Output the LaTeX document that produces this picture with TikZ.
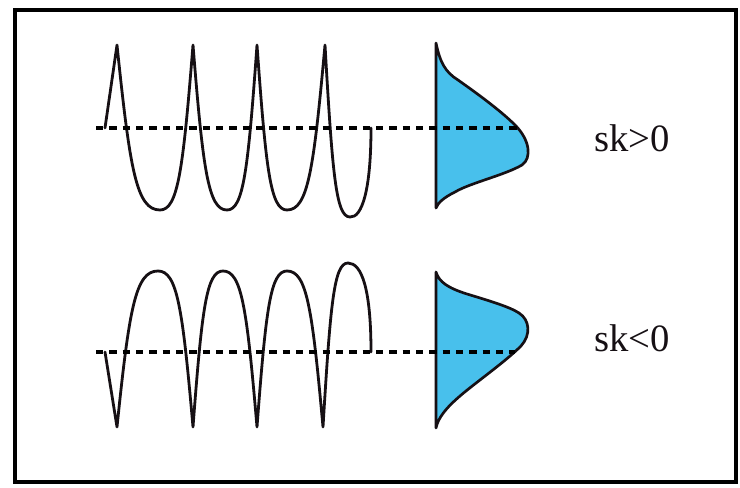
\documentclass[tikz,border=0pt]{standalone}
\usepackage{fontspec}
\setmainfont{Liberation Serif}
\definecolor{bellblue}{RGB}{72,192,236}
\definecolor{inkdark}{RGB}{22,16,20}
\tikzset{
  wave/.style={draw=inkdark, line width=2.1pt, line join=round, line cap=round},
  meanline/.style={draw=black, line width=3pt, dash pattern=on 5.6pt off 4.4pt},
  bell/.style={draw=inkdark, fill=bellblue, line width=2pt, line join=round},
  skewlabel/.style={anchor=base west, inner sep=0pt, text=inkdark,
    font=\fontsize{29}{34}\selectfont},
  frame/.style={draw=black, line width=3pt}
}
\begin{document}
\begin{tikzpicture}[x=0.75pt, y=-0.75pt]
  \useasboundingbox (0,0) rectangle (740,488);
  \fill[white] (0,0) rectangle (740,488);
  \draw[frame] (15,10) rectangle (736,482);

  % ---- positive skew: sharp crests, broad troughs ----
  \draw[wave] (105,128) -- (117,45)
    .. controls (130,170) and (136.4,210) .. (160,210)
    .. controls (178,210) and (183,170) .. (193,45)
    .. controls (203,170) and (208.3,210) .. (227,210)
    .. controls (243.5,210) and (248,170) .. (257,45)
    .. controls (266,170) and (270.5,210) .. (287,210)
    .. controls (308,210) and (313.6,170) .. (325,45)
    .. controls (332.5,175) and (336,217) .. (350,217)
    .. controls (362,218) and (371,190) .. (371,128);
  \path[bell] (436,43)
    .. controls (440,62) and (445,72) .. (458,80)
    .. controls (475,92) and (500,110) .. (515,125)
    .. controls (530,140) and (532,158) .. (522,165)
    .. controls (505,175) and (470,183) .. (455,192)
    .. controls (443,198) and (438,203) .. (436,208) -- cycle;
  \coordinate (m1a) at (96,128);
  \coordinate (m1b) at (518,128);
  \draw[meanline] (m1a) -- (m1b);
  \node[skewlabel] (skpos) at (594,152) {sk>0};

  % ---- negative skew: broad crests, sharp troughs ----
  \draw[wave] (105,352) -- (117,427)
    .. controls (129.3,308) and (135.5,271) .. (158,271)
    .. controls (177.3,271) and (182.5,308) .. (193,427)
    .. controls (202,308) and (206.5,271) .. (223,271)
    .. controls (241.7,271) and (246.8,308) .. (257,427)
    .. controls (266,308) and (270.5,271) .. (287,271)
    .. controls (306.8,271) and (312.2,308) .. (323,427)
    .. controls (330.5,303) and (334,263) .. (348,263)
    .. controls (362,263) and (371,290) .. (371,352);
  \path[bell] (436,272)
    .. controls (439,282) and (448,288) .. (467,294)
    .. controls (490,301) and (510,307) .. (519,313)
    .. controls (530,320) and (531,335) .. (521,346)
    .. controls (505,362) and (475,383) .. (460,396)
    .. controls (446,408) and (438,418) .. (436,428) -- cycle;
  \coordinate (m2a) at (96,352);
  \coordinate (m2b) at (515,352);
  \draw[meanline] (m2a) -- (m2b);
  \node[skewlabel] (skneg) at (594,352) {sk<0};
\end{tikzpicture}
\end{document}
